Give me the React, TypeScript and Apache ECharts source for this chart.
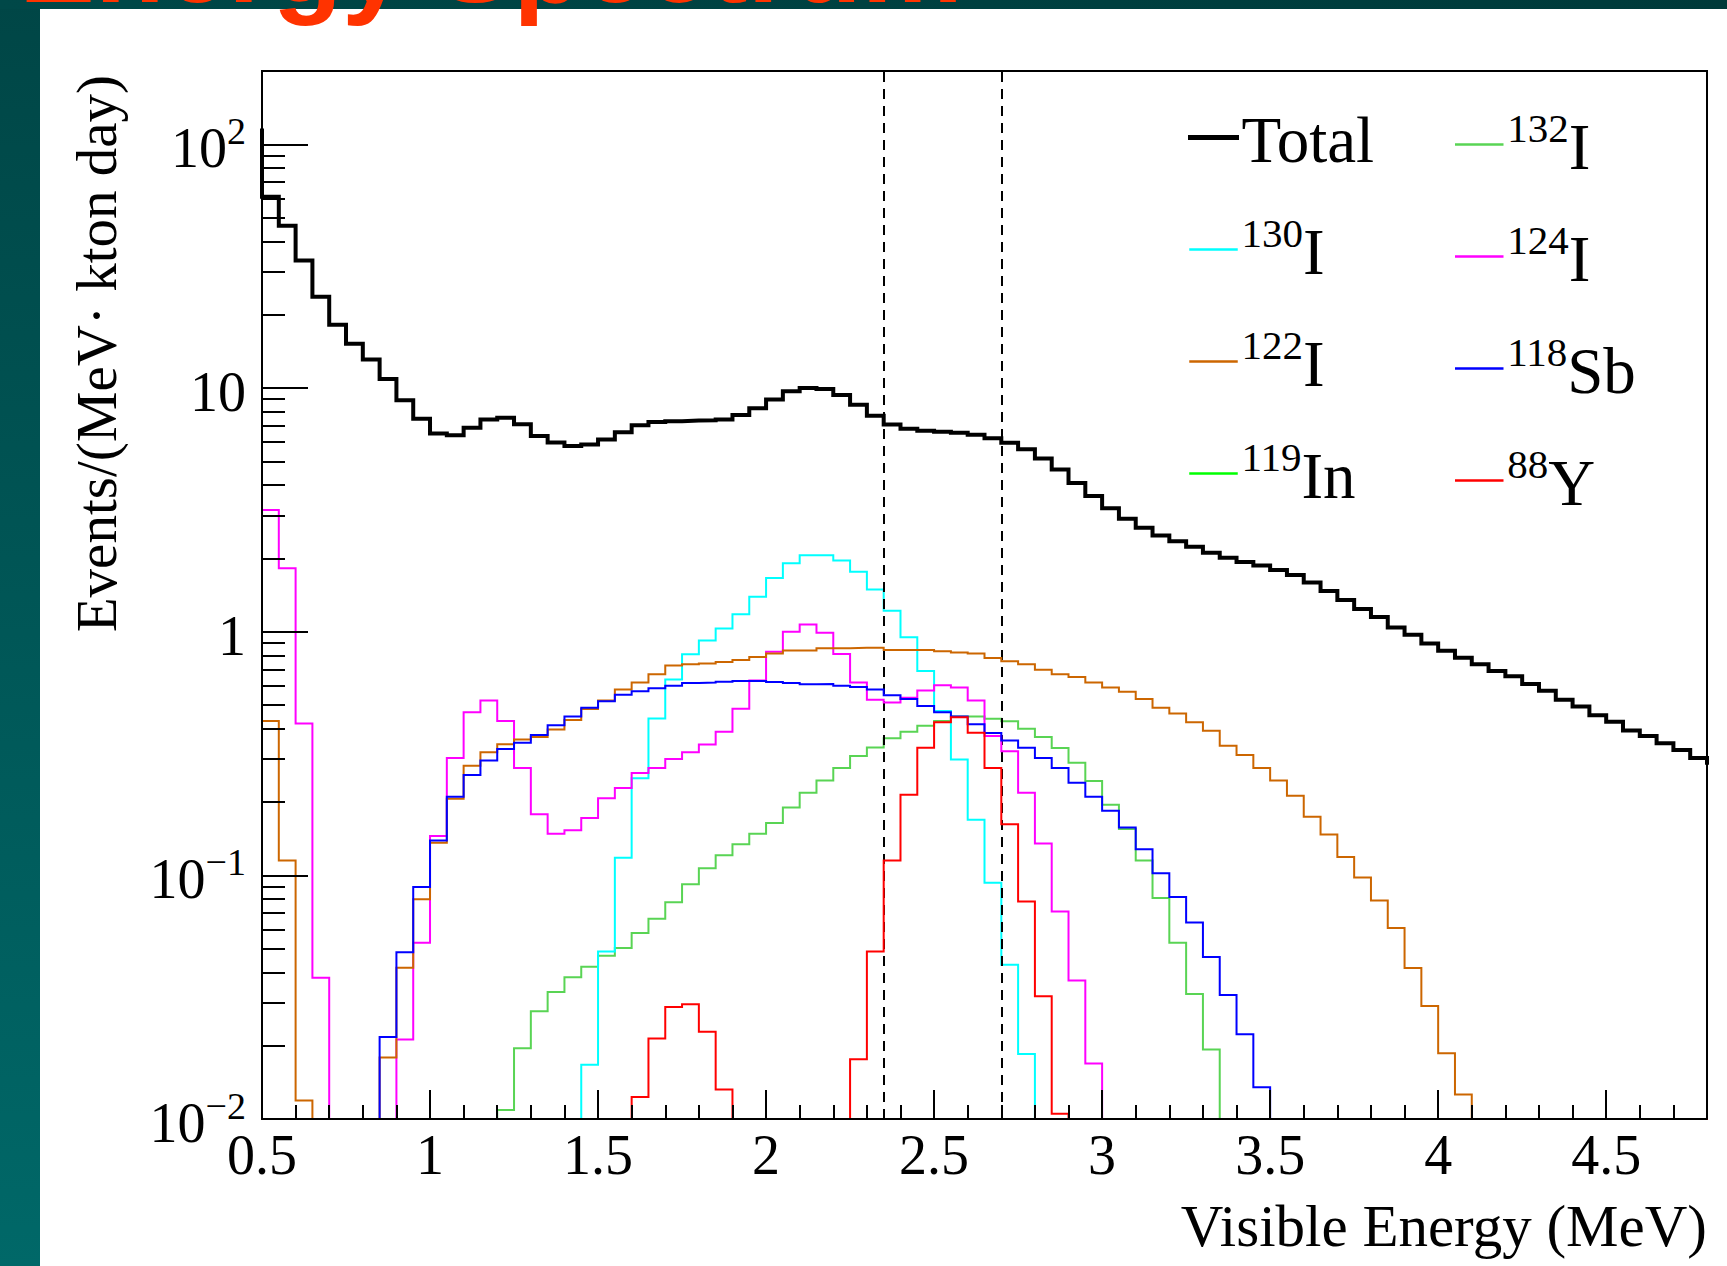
import React, { useEffect, useRef } from 'react';
import * as echarts from 'echarts';

const W = 1727;
const H = 1266;

// Histogram binning (MeV): first bin starts at 0.45 (left of the visible range), width 0.05
const BIN_START = 0.45;
const BIN_WIDTH = 0.05;

const X_MIN = 0.5;
const X_MAX = 4.8;
const Y_MIN = 0.01;
const Y_MAX = 200;

const X_MAJOR_LABELS = [0.5, 1, 1.5, 2, 2.5, 3, 3.5, 4, 4.5];
const Y_DECADES = [0.01, 0.1, 1, 10, 100];
const CUT_LINES = [2.35, 2.7];

// Events/(MeV kton day) per bin (0 = empty bin)
const total = [
  114, 61, 46.3, 33.4, 23.7, 18.2, 15.2, 13.1, 10.9, 8.9,
  7.48, 6.5, 6.4, 6.87, 7.43, 7.55, 7.1, 6.35, 5.97, 5.78,
  5.87, 6.15, 6.59, 7.03, 7.25, 7.31, 7.35, 7.37, 7.43, 7.74,
  8.26, 8.97, 9.71, 10.0, 9.9, 9.35, 8.53, 7.69, 7.09, 6.8,
  6.67, 6.61, 6.55, 6.43, 6.22, 5.96, 5.61, 5.14, 4.63, 4.08,
  3.6, 3.21, 2.91, 2.67, 2.48, 2.35, 2.23, 2.11, 2.01, 1.93,
  1.87, 1.79, 1.71, 1.59, 1.47, 1.35, 1.24, 1.15, 1.04, 0.972,
  0.895, 0.835, 0.781, 0.735, 0.69, 0.657, 0.61, 0.572, 0.525, 0.493,
  0.454, 0.427, 0.393, 0.373, 0.348, 0.327, 0.303, 0.29,
];

const i132 = [
  0, 0, 0, 0, 0, 0, 0, 0, 0, 0,
  0, 0, 0, 0, 0, 0.0109, 0.0195, 0.0277, 0.0332, 0.0382,
  0.0422, 0.0468, 0.0503, 0.058, 0.0663, 0.0775, 0.092, 0.107, 0.121, 0.134,
  0.148, 0.164, 0.19, 0.218, 0.245, 0.276, 0.309, 0.335, 0.365, 0.388,
  0.411, 0.43, 0.449, 0.449, 0.439, 0.429, 0.4, 0.37, 0.333, 0.29,
  0.244, 0.195, 0.155, 0.115, 0.0807, 0.0529, 0.0326, 0.0193, 0, 0,
  0, 0, 0, 0, 0, 0, 0, 0, 0, 0,
  0, 0, 0, 0, 0, 0, 0, 0, 0, 0,
  0, 0, 0, 0, 0, 0, 0, 0,
];

const i130 = [
  0, 0, 0, 0, 0, 0, 0, 0, 0, 0,
  0, 0, 0, 0, 0, 0, 0, 0, 0, 0,
  0.0167, 0.0487, 0.118, 0.25, 0.44, 0.637, 0.808, 0.921, 1.03, 1.18,
  1.39, 1.66, 1.91, 2.06, 2.06, 1.96, 1.76, 1.49, 1.22, 0.948,
  0.69, 0.473, 0.299, 0.169, 0.0933, 0.043, 0.0185, 0, 0, 0,
  0, 0, 0, 0, 0, 0, 0, 0, 0, 0,
  0, 0, 0, 0, 0, 0, 0, 0, 0, 0,
  0, 0, 0, 0, 0, 0, 0, 0, 0, 0,
  0, 0, 0, 0, 0, 0, 0, 0,
];

const i124 = [
  2.23, 3.16, 1.82, 0.42, 0.038, 0, 0, 0, 0, 0.0212,
  0.0529, 0.145, 0.303, 0.467, 0.522, 0.43, 0.276, 0.178, 0.148, 0.153,
  0.172, 0.207, 0.228, 0.263, 0.276, 0.3, 0.32, 0.344, 0.388, 0.483,
  0.631, 0.828, 1.0, 1.07, 0.99, 0.81, 0.618, 0.525, 0.512, 0.535,
  0.574, 0.603, 0.59, 0.522, 0.373, 0.323, 0.218, 0.135, 0.0711, 0.037,
  0.0169, 0, 0, 0, 0, 0, 0, 0, 0, 0,
  0, 0, 0, 0, 0, 0, 0, 0, 0, 0,
  0, 0, 0, 0, 0, 0, 0, 0, 0, 0,
  0, 0, 0, 0, 0, 0, 0, 0,
];

const i122 = [
  0.61, 0.43, 0.115, 0.0119, 0, 0, 0, 0, 0.0179, 0.0418,
  0.0798, 0.136, 0.206, 0.282, 0.32, 0.345, 0.361, 0.37, 0.397, 0.434,
  0.481, 0.522, 0.579, 0.618, 0.668, 0.726, 0.735, 0.74, 0.75, 0.765,
  0.788, 0.814, 0.838, 0.838, 0.855, 0.855, 0.859, 0.859, 0.841, 0.841,
  0.841, 0.831, 0.821, 0.814, 0.78, 0.756, 0.735, 0.697, 0.668, 0.652,
  0.618, 0.59, 0.567, 0.529, 0.487, 0.462, 0.425, 0.392, 0.34, 0.312,
  0.276, 0.245, 0.212, 0.174, 0.147, 0.119, 0.098, 0.0788, 0.0608, 0.0417,
  0.0291, 0.0186, 0.0126, 0, 0, 0, 0, 0, 0, 0,
  0, 0, 0, 0, 0, 0, 0, 0,
];

const sb118 = [
  0, 0, 0, 0, 0, 0, 0, 0, 0.0217, 0.0483,
  0.0895, 0.139, 0.21, 0.258, 0.296, 0.33, 0.35, 0.377, 0.413, 0.449,
  0.487, 0.518, 0.551, 0.57, 0.586, 0.6, 0.616, 0.618, 0.623, 0.628,
  0.628, 0.621, 0.616, 0.608, 0.61, 0.6, 0.593, 0.579, 0.549, 0.529,
  0.495, 0.467, 0.449, 0.417, 0.384, 0.358, 0.334, 0.303, 0.276, 0.24,
  0.21, 0.184, 0.157, 0.128, 0.102, 0.0815, 0.0641, 0.0462, 0.0323, 0.0223,
  0.0135, 0, 0, 0, 0, 0, 0, 0, 0, 0,
  0, 0, 0, 0, 0, 0, 0, 0, 0, 0,
  0, 0, 0, 0, 0, 0, 0, 0,
];

// 119In stays below 10^-2 over the whole plotted range
const in119 = [
  0, 0, 0, 0, 0, 0, 0, 0, 0, 0,
  0, 0, 0, 0, 0, 0, 0, 0, 0, 0,
  0, 0, 0, 0, 0, 0, 0, 0, 0, 0,
  0, 0, 0, 0, 0, 0, 0, 0, 0, 0,
  0, 0, 0, 0, 0, 0, 0, 0, 0, 0,
  0, 0, 0, 0, 0, 0, 0, 0, 0, 0,
  0, 0, 0, 0, 0, 0, 0, 0, 0, 0,
  0, 0, 0, 0, 0, 0, 0, 0, 0, 0,
  0, 0, 0, 0, 0, 0, 0, 0,
];

const y88 = [
  0, 0, 0, 0, 0, 0, 0, 0, 0, 0,
  0, 0, 0, 0, 0, 0, 0, 0, 0, 0,
  0, 0, 0, 0.0123, 0.0214, 0.0288, 0.0296, 0.0228, 0.0132, 0,
  0, 0, 0, 0, 0, 0, 0.0176, 0.0487, 0.115, 0.214,
  0.334, 0.425, 0.445, 0.385, 0.276, 0.162, 0.0781, 0.0319, 0.0105, 0,
  0, 0, 0, 0, 0, 0, 0, 0, 0, 0,
  0, 0, 0, 0, 0, 0, 0, 0, 0, 0,
  0, 0, 0, 0, 0, 0, 0, 0, 0, 0,
  0, 0, 0, 0, 0, 0, 0, 0,
];

const SERIES_NAMES = ['Total', '132I', '130I', '124I', '122I', '118Sb', '119In', '88Y'];
const SERIES_VALUES = [total, i132, i130, i124, i122, sb118, in119, y88];

const STYLE: Record<string, { color: string; width: number }> = {
  Total: { color: '#000000', width: 4 },
  '132I': { color: '#59d454', width: 2 },
  '130I': { color: '#00ffff', width: 2 },
  '124I': { color: '#ff00ff', width: 2 },
  '122I': { color: '#cc6600', width: 2 },
  '118Sb': { color: '#0000ff', width: 2 },
  '119In': { color: '#00ff00', width: 2 },
  '88Y': { color: '#ff0000', width: 2 },
};

const LEGEND_TEXT: Record<string, string> = {
  Total: '{b|Total}',
  '132I': '{s|132}{b|I}',
  '130I': '{s|130}{b|I}',
  '124I': '{s|124}{b|I}',
  '122I': '{s|122}{b|I}',
  '118Sb': '{s|118}{b|Sb}',
  '119In': '{s|119}{b|In}',
  '88Y': '{s|88}{b|Y}',
};

const SERIF = '"Liberation Serif", "Times New Roman", "DejaVu Serif", serif';

function r2(x: number) {
  return Math.round(x * 1000) / 1000;
}

// histogram outline points: bin left edges + closing right edge; empty bins sit on the axis floor
function histPoints(vals: number[]) {
  const floorV = (v: number) => (v > 0 ? v : Y_MIN);
  const pts: number[][] = vals.map((v, i) => [r2(BIN_START + i * BIN_WIDTH), floorV(v)]);
  pts.push([r2(BIN_START + vals.length * BIN_WIDTH), floorV(vals[vals.length - 1])]);
  return pts;
}

function yMinorTicks() {
  const out: number[] = [];
  for (const d of Y_DECADES) {
    for (let k = 2; k <= 9; k++) {
      if (k * d < Y_MAX) out.push(k * d);
    }
  }
  return out;
}

function yLabel(v: number) {
  const e = Math.log10(v);
  const n = Math.round(e);
  if (Math.abs(e - n) > 1e-6) return '';
  if (n === 0) return '{b|1}';
  if (n === 1) return '{b|10}';
  return '{b|10}{s|' + (n < 0 ? '\u2212' + -n : String(n)) + '}';
}

function legendData(names: string[]) {
  return names.map((name) => ({
    name,
    lineStyle: { width: name === 'Total' ? 5 : 2.5, color: STYLE[name].color },
  }));
}

function buildOption() {
  const series: any[] = SERIES_NAMES.map((name, idx) => {
    const st = STYLE[name];
    const s: any = {
      name,
      type: 'line',
      step: 'end',
      data: histPoints(SERIES_VALUES[idx]),
      symbol: 'none',
      showSymbol: false,
      clip: true,
      z: 2 + idx,
      lineStyle: { color: st.color, width: st.width, join: 'miter', cap: 'square' },
      itemStyle: { color: st.color },
      emphasis: { disabled: true },
      animation: false,
    };
    if (name === '88Y') {
      s.markLine = {
        silent: true,
        symbol: ['none', 'none'],
        label: { show: false },
        lineStyle: { color: '#000', width: 2, type: [10, 7] },
        emphasis: { disabled: true },
        data: CUT_LINES.map((x) => ({ xAxis: x })),
        animation: false,
      };
    }
    return s;
  });

  const legendCommon = {
    orient: 'vertical',
    padding: 0,
    itemWidth: 46,
    itemHeight: 20,
    itemGap: 40,
    selectedMode: false,
    itemStyle: { opacity: 0, borderWidth: 0 },
    formatter: (name: string) => LEGEND_TEXT[name],
    textStyle: {
      color: '#000',
      fontFamily: SERIF,
      fontSize: 65,
      padding: [0, 0, 3, 0],
      rich: {
        b: { fontFamily: SERIF, fontSize: 65, lineHeight: 72, verticalAlign: 'bottom', color: '#000' },
        s: { fontFamily: SERIF, fontSize: 41, lineHeight: 30, verticalAlign: 'top', color: '#000' },
      },
    },
  };

  return {
    animation: false,
    backgroundColor: '#ffffff',
    textStyle: { fontFamily: SERIF, color: '#000' },
    grid: {
      left: 262,
      top: 71,
      right: W - 1707,
      bottom: H - 1119,
      show: true,
      borderColor: '#000',
      borderWidth: 2,
      backgroundColor: 'transparent',
      outerBoundsMode: 'none',
      containLabel: false,
    },
    legend: [
      { ...legendCommon, left: 1188, top: 107, data: legendData(['Total', '130I', '122I', '119In']) },
      { ...legendCommon, left: 1455, top: 107, data: legendData(['132I', '124I', '118Sb', '88Y']) },
    ],
    xAxis: [
      {
        type: 'value',
        position: 'bottom',
        min: X_MIN,
        max: X_MAX,
        interval: 0.5,
        z: 10,
        axisLine: { show: true, lineStyle: { color: '#000', width: 2 } },
        axisTick: { show: true, inside: true, length: 29, lineStyle: { color: '#000', width: 2 } },
        axisLabel: {
          show: true,
          customValues: X_MAJOR_LABELS,
          margin: 8,
          color: '#000',
          fontFamily: SERIF,
          fontSize: 56,
        },
        splitLine: { show: false },
      },
      {
        type: 'value',
        position: 'bottom',
        min: X_MIN,
        max: X_MAX,
        interval: 0.1,
        z: 10,
        axisLine: { show: false },
        axisTick: { show: true, inside: true, length: 14, lineStyle: { color: '#000', width: 2 } },
        axisLabel: { show: false },
        splitLine: { show: false },
      },
    ],
    yAxis: [
      {
        type: 'log',
        logBase: 10,
        position: 'left',
        min: Y_MIN,
        max: Y_MAX,
        z: 10,
        axisLine: { show: true, lineStyle: { color: '#000', width: 2 } },
        axisTick: {
          show: true,
          inside: true,
          length: 46,
          customValues: Y_DECADES,
          lineStyle: { color: '#000', width: 2 },
        },
        axisLabel: {
          show: true,
          customValues: Y_DECADES,
          margin: 16,
          color: '#000',
          fontFamily: SERIF,
          fontSize: 56,
          formatter: yLabel,
          rich: {
            b: { fontFamily: SERIF, fontSize: 56, lineHeight: 64, verticalAlign: 'bottom', color: '#000' },
            s: { fontFamily: SERIF, fontSize: 38, lineHeight: 30, verticalAlign: 'top', color: '#000' },
          },
        },
        splitLine: { show: false },
        minorTick: { show: false },
      },
      {
        type: 'log',
        logBase: 10,
        position: 'left',
        min: Y_MIN,
        max: Y_MAX,
        z: 10,
        axisLine: { show: false },
        axisTick: {
          show: true,
          inside: true,
          length: 23,
          customValues: yMinorTicks(),
          lineStyle: { color: '#000', width: 2 },
        },
        axisLabel: { show: false },
        splitLine: { show: false },
      },
    ],
    graphic: [
      {
        type: 'rect',
        silent: true,
        z: -10,
        shape: { x: 0, y: 0, width: 40, height: H },
        style: {
          fill: new echarts.graphic.LinearGradient(0, 0, 0, 1, [
            { offset: 0, color: '#004646' },
            { offset: 1, color: '#006868' },
          ]),
        },
      },
      {
        type: 'rect',
        silent: true,
        z: -10,
        shape: { x: 0, y: 0, width: W, height: 9 },
        style: {
          fill: new echarts.graphic.LinearGradient(0, 0, 1, 0, [
            { offset: 0, color: '#004848' },
            { offset: 1, color: '#003a3a' },
          ]),
        },
      },
      {
        type: 'text',
        silent: true,
        z: 100,
        x: 19,
        y: -38,
        style: {
          text: 'Energy Spectrum',
          fontFamily: '"Liberation Sans", Arial, sans-serif',
          fontWeight: 'bold',
          fontSize: 114,
          fill: '#ff3300',
          align: 'left',
          verticalAlign: 'middle',
        },
      },
      {
        type: 'text',
        silent: true,
        z: 100,
        x: 96,
        y: 75,
        rotation: Math.PI / 2,
        style: {
          text: 'Events/(MeV\u00b7 kton day)',
          fontFamily: SERIF,
          fontSize: 57,
          fill: '#000',
          align: 'right',
          verticalAlign: 'middle',
        },
      },
      {
        type: 'text',
        silent: true,
        z: 100,
        x: 1707,
        y: 1226,
        style: {
          text: 'Visible Energy (MeV)',
          fontFamily: SERIF,
          fontSize: 59,
          fill: '#000',
          align: 'right',
          verticalAlign: 'middle',
        },
      },
    ],
    series,
  };
}

export default function App() {
  const ref = useRef<HTMLDivElement>(null);
  useEffect(() => {
    if (!ref.current) return;
    const chart = echarts.init(ref.current, undefined, { renderer: 'svg', width: W, height: H });
    chart.setOption(buildOption() as any);
    return () => {
      chart.dispose();
    };
  }, []);
  return (
    <div
      ref={ref}
      style={{ position: 'fixed', left: 0, top: 0, width: W, height: H, background: '#fff' }}
    />
  );
}
